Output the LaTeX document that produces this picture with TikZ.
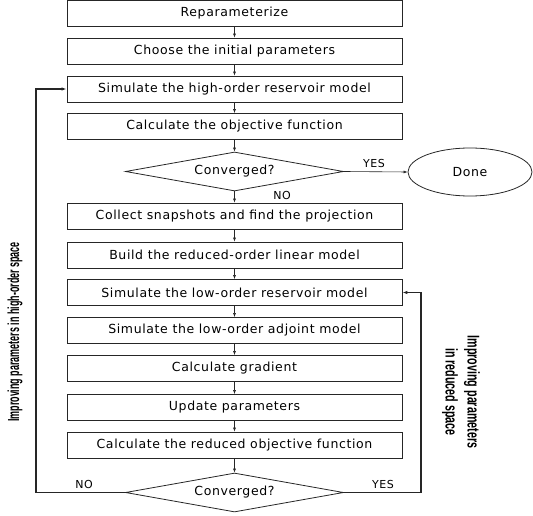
\documentclass[tikz,border=0pt]{standalone}
\usepackage{fontspec}
\setmainfont{DejaVu Sans}[LetterSpace=5]
\newfontfamily\sidefont{Liberation Sans}
\usepackage{graphicx}
\usetikzlibrary{shapes.geometric, arrows.meta}

\begin{document}
\begin{tikzpicture}[x=1pt, y=-1pt,
  stepbox/.style={draw=black!85, line width=0.8pt, minimum width=335pt, minimum height=26pt,
    inner sep=0pt, font=\fontsize{12.5}{14}\selectfont},
  testbox/.style={diamond, draw=black!85, line width=0.8pt, aspect=5.6, minimum width=218pt,
    minimum height=39pt, inner sep=0pt, font=\fontsize{12.5}{14}\selectfont},
  endbox/.style={ellipse, draw=black!85, line width=0.8pt, minimum width=124pt, minimum height=48pt,
    inner sep=0pt, font=\fontsize{12.5}{14}\selectfont},
  flow/.style={draw=black!85, line width=0.6pt, -{Latex[length=4pt,width=3pt]}},
  loopline/.style={draw=black!85, line width=1.3pt, -{Latex[length=5pt,width=3.5pt]}},
  answer/.style={font=\fontsize{11}{12}\selectfont, inner sep=0pt},
  sidenote/.style={font=\sidefont\bfseries, align=center, inner sep=0pt}]
  \useasboundingbox (0,0) rectangle (533,516);
  \def\cx{234.5} % centre line of the chart

  %% main column of steps
  \foreach \nm/\yy/\txt in {b1/13/Reparameterize, b2/51/Choose the initial parameters,
      b3/89/Simulate the high-order reservoir model, b4/126.5/Calculate the objective function,
      b5/216/Collect snapshots and find the projection, b6/255/Build the reduced-order linear model,
      b7/292.5/Simulate the low-order reservoir model, b8/330.5/Simulate the low-order adjoint model,
      b9/368.5/Calculate gradient, b10/407.5/Update parameters,
      b11/445/Calculate the reduced objective function}{
    \node[stepbox] (\nm) at (\cx,\yy) {\txt};
  }
  \node[testbox] (d1) at (\cx,171.5) {Converged?};
  \node[testbox] (d2) at (\cx,492.5) {Converged?};
  \node[endbox] (done) at (470,172) {Done};

  % straight arrows down the column
  \foreach \a/\b in {b1/b2, b2/b3, b3/b4, b4/d1, d1/b5, b5/b6, b6/b7, b7/b8, b8/b9, b9/b10, b10/b11, b11/d2}{
    \draw[flow] (\a) -- (\b);
  }
  \draw[flow] (d1.east) -- (done.west);

  % feedback loops
  \coordinate (lcorner) at (36,492.5);
  \coordinate (rcorner) at (421,492.5);
  \draw[loopline] (d2.west) -- (lcorner) |- (b3.west);
  \draw[loopline] (d2.east) -- (rcorner) |- (b7.east);

  % answers
  \node[answer] (yes1) at (374,163) {YES};
  \node[answer] (no1) at (282,195) {NO};
  \node[answer] (no2) at (84,484) {NO};
  \node[answer] (yes2) at (383,484) {YES};

  % loop notes
  \node[sidenote, rotate=90, font=\sidefont\bfseries\fontsize{16}{18}\selectfont] (highnote) at (15,332)
    {\scalebox{0.56}[1]{Improving parameters in high-order space}};
  \node[sidenote, rotate=-90, font=\sidefont\bfseries\fontsize{17}{22}\selectfont] (lownote) at (461,392)
    {\scalebox{0.63}[1]{Improving parameters}\\ \scalebox{0.63}[1]{in reduced space}};
\end{tikzpicture}
\end{document}
